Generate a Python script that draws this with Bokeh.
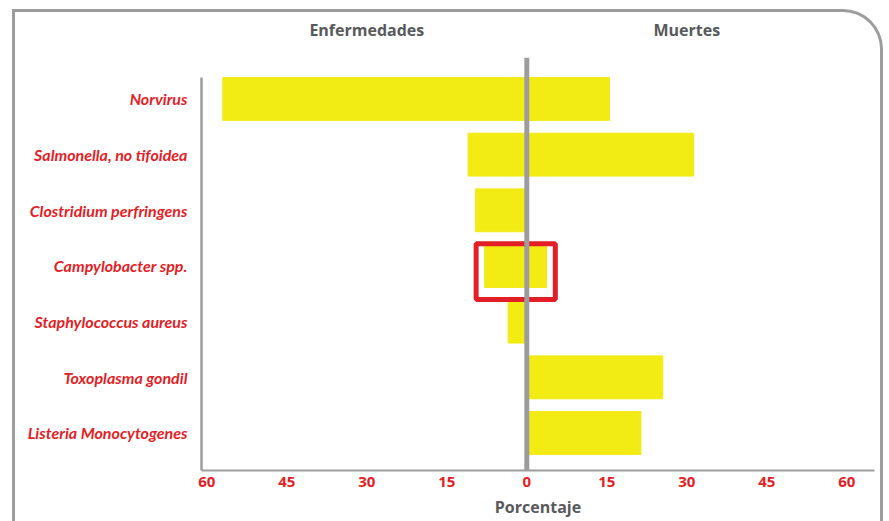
from bokeh.plotting import figure
from bokeh.models import Range1d, FixedTicker, LinearAxis, Span, ColumnDataSource, InlineStyleSheet
from bokeh.embed import file_html
from bokeh.resources import INLINE

# ---- data ----
categories = ["Norvirus", "Salmonella, no tifoidea", "Clostridium perfringens",
              "Campylobacter spp.", "Staphylococcus aureus", "Toxoplasma gondil",
              "Listeria Monocytogenes"]
enfermedades = [57.0, 11.0, 9.6, 7.9, 3.5, 0.0, 0.0]
muertes = [15.5, 31.3, 0.0, 3.7, 0.0, 25.5, 21.4]
tick_values = [-60, -45, -30, -15, 0, 15, 30, 45, 60]
tick_labels = ["60", "45", "30", "15", "0", "15", "30", "45", "60"]
side_titles = ["Enfermedades", "Muertes"]
side_title_positions = [-30, 30]
x_title = "Porcentaje"
highlight = "Campylobacter spp."

# ---- styles ----
YELLOW = "#f2eb14"
RED = "#e31e26"
GRAY = "#9d9d9f"
DARK = "#58595b"
BAR_H = 0.77

rows = list(range(len(categories)))
src = ColumnDataSource(dict(
    y=rows,
    neg=[-v for v in enfermedades],
    pos=muertes,
))

x_start, x_end = -61.0, 65.2
y_start, y_end = 6.674, -0.745

frame_css = InlineStyleSheet(css="""
:host::after {
  content: "";
  position: absolute;
  left: 12px;
  top: 9px;
  width: 871px;
  height: 512px;
  box-sizing: border-box;
  border: 3px solid #9d9d9f;
  border-bottom: none;
  border-top-right-radius: 40px;
  pointer-events: none;
}
""")

p = figure(width=889, height=521, output_backend="svg", toolbar_location=None,
           x_range=Range1d(x_start, x_end), y_range=Range1d(y_start, y_end),
           min_border_left=201, min_border_right=15, min_border_top=57, min_border_bottom=51,
           outline_line_color=None, background_fill_color="white", border_fill_color="white")
p.stylesheets = [frame_css]
p.grid.visible = False

p.hbar(y="y", left="neg", right=0, height=BAR_H, color=YELLOW, source=src)
p.hbar(y="y", left=0, right="pos", height=BAR_H, color=YELLOW, source=src)

# highlight box around one category
r = categories.index(highlight)
p.quad(left=-(enfermedades[r] + 1.6), right=muertes[r] + 1.65, top=r - 0.4, bottom=r + 0.6,
       fill_color=None, line_color=RED, line_width=5)

# center line
p.add_layout(Span(location=0, dimension="height", line_color=GRAY, line_width=5))

# left axis line (from top of first bar down)
p.segment(x0=[x_start], y0=[-BAR_H / 2], x1=[x_start], y1=[y_start],
          line_color=GRAY, line_width=2.5, level="overlay")

# x axis (bottom)
xa = p.xaxis[0]
xa.ticker = FixedTicker(ticks=tick_values)
xa.major_label_overrides = {t: l for t, l in zip(tick_values, tick_labels)}
xa.axis_line_color = GRAY
xa.axis_line_width = 2
xa.major_tick_line_color = None
xa.minor_tick_line_color = None
xa.major_label_standoff = 0
xa.major_label_text_color = RED
xa.major_label_text_font = "Open Sans"
xa.major_label_text_font_style = "bold"
xa.major_label_text_font_size = "15px"
xa.axis_label = x_title
xa.axis_label_standoff = 6
xa.axis_label_text_color = DARK
xa.axis_label_text_font = "Open Sans"
xa.axis_label_text_font_style = "bold"
xa.axis_label_text_font_size = "16px"

# y axis (categories)
ya = p.yaxis[0]
ya.ticker = FixedTicker(ticks=rows)
ya.major_label_overrides = {i: c for i, c in zip(rows, categories)}
ya.axis_line_color = None
ya.major_tick_line_color = None
ya.minor_tick_line_color = None
ya.major_label_standoff = 8
ya.major_label_text_color = RED
ya.major_label_text_font = "Lato"
ya.major_label_text_font_style = "bold italic"
ya.major_label_text_font_size = "16px"

# top axis with side titles
ta = LinearAxis(ticker=FixedTicker(ticks=side_title_positions),
                major_label_overrides={t: s for t, s in zip(side_title_positions, side_titles)})
ta.axis_line_color = None
ta.major_tick_line_color = None
ta.minor_tick_line_color = None
ta.major_label_standoff = 11
ta.major_label_text_color = DARK
ta.major_label_text_font = "Open Sans"
ta.major_label_text_font_style = "bold"
ta.major_label_text_font_size = "16px"
p.add_layout(ta, "above")

open("out.html", "w").write(file_html(p, INLINE))
